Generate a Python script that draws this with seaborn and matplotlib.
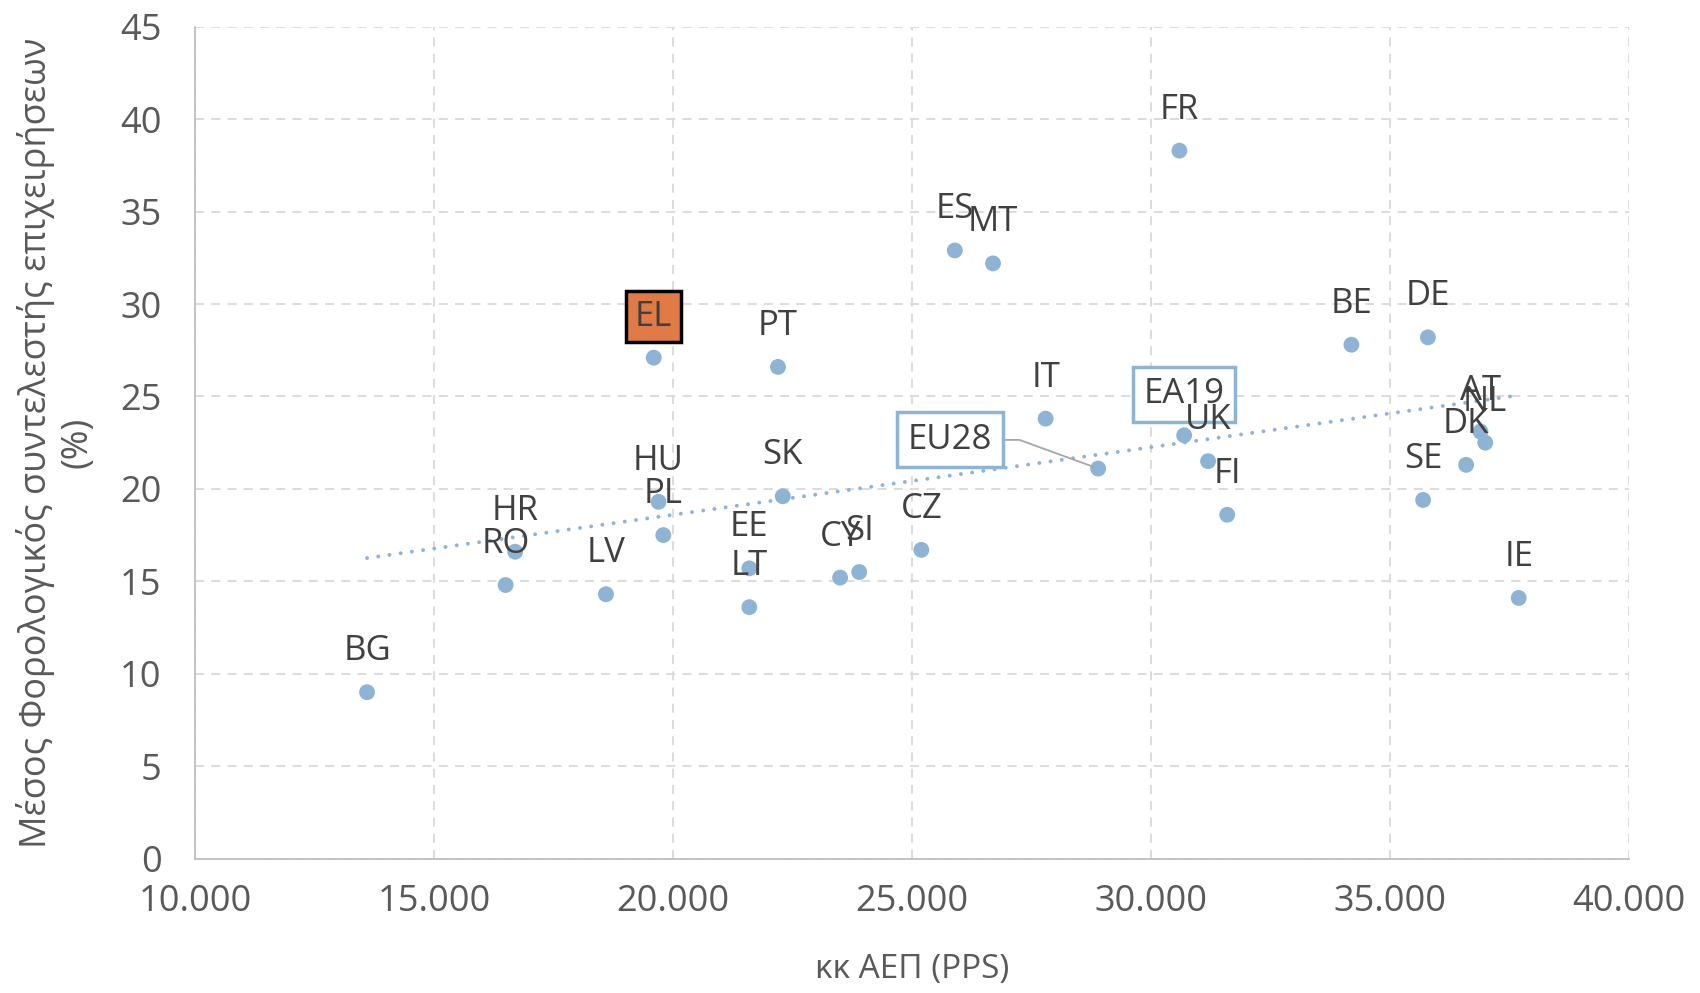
import matplotlib
matplotlib.use("Agg")
import matplotlib.pyplot as plt
from matplotlib.ticker import FuncFormatter, MultipleLocator
import seaborn as sns
import pandas as pd

countries = ['BG', 'RO', 'HR', 'LV', 'EL', 'HU', 'PL', 'PT', 'SK', 'EE', 'LT', 'CY', 'SI', 'CZ',
             'ES', 'MT', 'IT', 'FR', 'UK', 'FI', 'BE', 'DE', 'SE', 'DK', 'AT', 'NL', 'IE']
gdp_pps = [13600, 16500, 16700, 18600, 19600, 19700, 19800, 22200, 22300, 21600, 21600, 23500, 23900, 25200,
           25900, 26700, 27800, 30600, 31200, 31600, 34200, 35800, 35700, 36600, 36900, 37000, 37700]
tax_rate = [9.0, 14.8, 16.6, 14.3, 27.1, 19.3, 17.5, 26.6, 19.6, 15.7, 13.6, 15.2, 15.5, 16.7,
            32.9, 32.2, 23.8, 38.3, 21.5, 18.6, 27.8, 28.2, 19.4, 21.3, 23.1, 22.5, 14.1]
agg_names = ['EU28', 'EA19']
agg_gdp = [28900, 30700]
agg_rate = [21.1, 22.9]

xlabel = 'κκ ΑΕΠ (PPS)'
ylabel = 'Μέσος Φορολογικός συντελεστής επιχειρήσεων\n(%)'

sns.set_style('white')
plt.rcParams['font.family'] = ['Open Sans', 'DejaVu Sans']

blue = '#8db3d5'
txt = '#404040'
tick_c = '#595959'

df = pd.DataFrame({'country': countries, 'gdp': gdp_pps, 'rate': tax_rate})
dfa = pd.DataFrame({'name': agg_names, 'gdp': agg_gdp, 'rate': agg_rate})
dfall = pd.concat([df.rename(columns={'country': 'name'}), dfa], ignore_index=True)

fig = plt.figure(figsize=(17, 9.93), dpi=100)
ax = fig.add_axes([0.1147, 0.1354, 0.8433, 0.8376])

sns.regplot(data=df, x='gdp', y='rate', ax=ax, scatter=False, ci=None,
            line_kws=dict(color=blue, lw=2.8, ls=(0, (0.01, 2.9)), dash_capstyle='round'))
sns.scatterplot(data=dfall, x='gdp', y='rate', ax=ax, s=130, color=blue, edgecolor='none', zorder=3)

LFS = 25
for n, x, y in zip(countries, gdp_pps, tax_rate):
    if n == 'EL':
        ax.annotate(n, (x, y), xytext=(0, 29.5), textcoords='offset points', ha='center', va='center',
                    fontsize=LFS, color=txt, zorder=5,
                    bbox=dict(boxstyle='square,pad=0.25', fc='#e07b45', ec='black', lw=2.5))
    else:
        ax.annotate(n, (x, y), xytext=(0, 29.5), textcoords='offset points', ha='center', va='center',
                    fontsize=LFS, color=txt, zorder=5)

# EA19 label
ax.annotate(agg_names[1], (agg_gdp[1], agg_rate[1]), xytext=(0, 29.5), textcoords='offset points',
            ha='center', va='center', fontsize=LFS, color=txt, zorder=4,
            bbox=dict(boxstyle='square,pad=0.3', fc='white', ec=blue, lw=2.5))
# EU28 label with leader line
ax.annotate(agg_names[0], (agg_gdp[0], agg_rate[0]), xytext=(25800, 22.65), textcoords='data',
            ha='center', va='center', fontsize=LFS, color=txt, zorder=4,
            bbox=dict(boxstyle='square,pad=0.3', fc='white', ec=blue, lw=2.5),
            arrowprops=dict(arrowstyle='-', color='#a6a6a6', lw=1.3, shrinkA=0, shrinkB=4,
                            connectionstyle='angle,angleA=0,angleB=160,rad=0'))

ax.set_xlim(10000, 40000)
ax.set_ylim(0, 45)
ax.xaxis.set_major_locator(MultipleLocator(5000))
ax.yaxis.set_major_locator(MultipleLocator(5))
ax.xaxis.set_major_formatter(FuncFormatter(lambda v, p: f'{int(v):,}'.replace(',', '.')))
ax.grid(True, color='#d9d9d9', ls=(0, (5, 4)), lw=1.3)
ax.set_axisbelow(True)
for s in ['top', 'right']:
    ax.spines[s].set_visible(False)
for s in ['left', 'bottom']:
    ax.spines[s].set_color('#bfbfbf')
    ax.spines[s].set_linewidth(1.3)
ax.tick_params(axis='both', labelsize=26, colors=tick_c, length=0)
ax.tick_params(axis='y', pad=24)
ax.tick_params(axis='x', pad=18)
ax.set_xlabel(xlabel, fontsize=24, color=tick_c, labelpad=24)
ax.set_ylabel(ylabel, fontsize=26, color=tick_c, labelpad=18, linespacing=1.15)

fig.savefig('out.png', dpi=100)
